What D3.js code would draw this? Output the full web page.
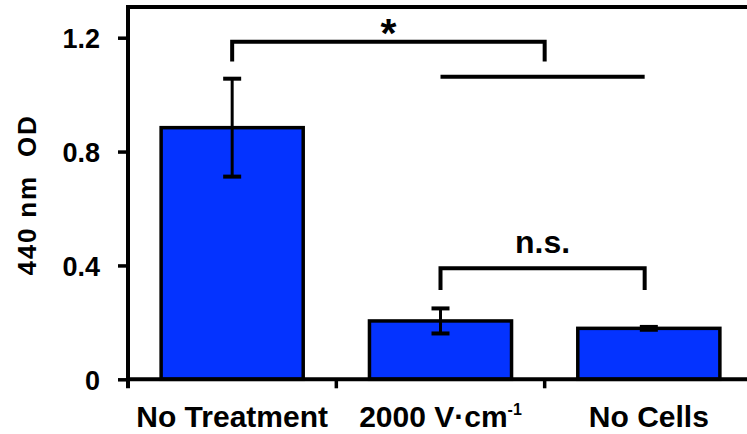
<!DOCTYPE html>
<html>
<head>
<meta charset="utf-8">
<script src="https://cdn.jsdelivr.net/npm/d3@7"></script>
<style>
  html, body { margin: 0; padding: 0; background: #fff; }
  svg { display: block; }
  text { font-family: "Liberation Sans", Arial, Helvetica, sans-serif; font-weight: bold; fill: #000; }
</style>
</head>
<body>
<svg id="chart" width="747" height="434"></svg>
<script>
// Absorbance at 440 nm for each condition
const categories = ["No Treatment", "2000 V·cm-1", "No Cells"];
const means = [0.884, 0.205, 0.179];
const errors = [0.172, 0.044, 0.005];
const yTicks = [0, 0.4, 0.8, 1.2];
const yTickLabels = ["0", "0.4", "0.8", "1.2"];

// Significance brackets: positions in category-index units and OD units
const brackets = [
  { from: 0, to: 1.5, top: 1.186, legs: 1.116, label: "*" },
  { from: 1, to: 1.98, top: 0.39, legs: 0.314, label: "n.s." }
];
const plainLines = [{ from: 1, to: 1.98, y: 1.063 }];

const svg = d3.select("#chart");
const plotLeft = 128, plotRight = 753, plotTop = 7, plotBottom = 379.3;

const x = d3.scaleBand().domain(categories).range([plotLeft, plotRight])
  .paddingInner(0.318).paddingOuter(0.159);
const y = d3.scaleLinear().domain([0, 1.2]).range([plotBottom, 37.7]);
const step = x.step();
const cx = i => x(categories[0]) + x.bandwidth() / 2 + i * step;

// bars
svg.append("g").selectAll("rect").data(categories).join("rect")
  .attr("x", d => x(d))
  .attr("y", (d, i) => y(means[i]))
  .attr("width", x.bandwidth())
  .attr("height", (d, i) => y(0) - y(means[i]))
  .attr("fill", "#0433ff")
  .attr("stroke", "#000")
  .attr("stroke-width", 3.5);

// error bars
const eb = svg.append("g").attr("stroke", "#000").attr("stroke-width", 3);
categories.forEach((c, i) => {
  const xc = cx(i);
  const lo = y(means[i] - errors[i]), hi = y(means[i] + errors[i]);
  eb.append("line").attr("x1", xc).attr("x2", xc).attr("y1", lo).attr("y2", hi);
  eb.append("line").attr("x1", xc - 9).attr("x2", xc + 9).attr("y1", lo).attr("y2", lo).attr("stroke-width", 4);
  eb.append("line").attr("x1", xc - 9).attr("x2", xc + 9).attr("y1", hi).attr("y2", hi).attr("stroke-width", 4);
});

// y axis
const yAxis = d3.axisLeft(y).tickValues(yTicks).tickSize(10)
  .tickFormat((d, i) => yTickLabels[i]);
const gy = svg.append("g").attr("transform", `translate(${plotLeft},0)`).call(yAxis);
gy.select(".domain").remove();
gy.selectAll(".tick line").attr("stroke", "#000").attr("stroke-width", 3.5);
gy.selectAll(".tick text").attr("font-size", 27).attr("x", -28).attr("dy", "0.36em")
  .attr("font-family", "Liberation Sans, Arial, sans-serif").attr("font-weight", "bold");
svg.append("line").attr("x1", plotLeft).attr("x2", plotLeft).attr("y1", plotTop - 2).attr("y2", plotBottom + 9)
  .attr("stroke", "#000").attr("stroke-width", 4);

// x axis with ticks at category boundaries
const boundaries = [0, 1, 2, 3].map(i => plotLeft + i * step);
svg.append("line").attr("x1", plotLeft).attr("x2", 747).attr("y1", plotBottom).attr("y2", plotBottom)
  .attr("stroke", "#000").attr("stroke-width", 4);
svg.append("g").selectAll("line").data(boundaries.slice(1)).join("line")
  .attr("x1", d => d).attr("x2", d => d).attr("y1", plotBottom).attr("y2", plotBottom + 9)
  .attr("stroke", "#000").attr("stroke-width", 3.5);

// top frame
svg.append("line").attr("x1", plotLeft).attr("x2", 747).attr("y1", plotTop).attr("y2", plotTop)
  .attr("stroke", "#000").attr("stroke-width", 4);

// category labels
const xl = svg.append("g");
categories.forEach((c, i) => {
  const t = xl.append("text").attr("x", cx(i)).attr("y", 427)
    .attr("text-anchor", "middle").attr("font-size", 30);
  if (c.endsWith("-1")) {
    t.append("tspan").text(c.slice(0, -2));
    t.append("tspan").text("-1").attr("font-size", 16).attr("dy", -12.5);
  } else {
    t.text(c);
  }
});

// y title
svg.append("text")
  .attr("transform", `translate(36,195) rotate(-90)`)
  .attr("text-anchor", "middle")
  .attr("font-size", 26)
  .attr("letter-spacing", 1.8)
  .attr("xml:space", "preserve")
  .style("white-space", "pre")
  .text("440 nm  OD");

// significance brackets
const bg = svg.append("g");
brackets.forEach(b => {
  const x1 = cx(b.from), x2 = cx(b.to);
  bg.append("path")
    .attr("d", `M${x1},${y(b.legs)}V${y(b.top)}H${x2}V${y(b.legs)}`)
    .attr("fill", "none").attr("stroke", "#000").attr("stroke-width", 4);
});
bg.append("text").attr("x", (cx(0) + cx(1.5)) / 2).attr("y", 47)
  .attr("text-anchor", "middle").attr("font-size", 41).text("*");
bg.append("text").attr("x", (cx(1) + cx(1.98)) / 2).attr("y", 253)
  .attr("text-anchor", "middle").attr("font-size", 32).text("n.s.");
plainLines.forEach(l => {
  bg.append("line").attr("x1", cx(l.from)).attr("x2", cx(l.to))
    .attr("y1", y(l.y)).attr("y2", y(l.y))
    .attr("stroke", "#000").attr("stroke-width", 4);
});
</script>
</body>
</html>
